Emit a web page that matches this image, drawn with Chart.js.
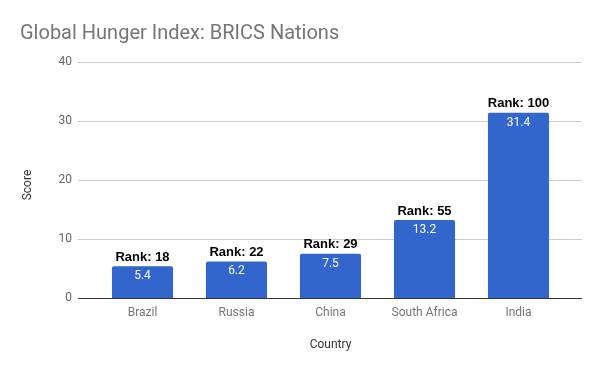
<!DOCTYPE html>
<html>
<head>
<meta charset="utf-8">
<script src="https://cdn.jsdelivr.net/npm/chart.js@4"></script>
<style>
  html,body{margin:0;padding:0;background:#fff;}
  #wrap{width:600px;height:371px;position:relative;}
</style>
</head>
<body>
<div id="wrap"><canvas id="c" width="600" height="371"></canvas></div>
<script>
const chartTitle = "Global Hunger Index: BRICS Nations";
const xAxisTitle = "Country";
const yAxisTitle = "Score";
const countries = ["Brazil", "Russia", "China", "South Africa", "India"];
const scores = [5.4, 6.2, 7.5, 13.2, 31.4];
const ranks = [18, 22, 29, 55, 100];
const yTicks = [0, 10, 20, 30, 40];

const extrasPlugin = {
  id: 'extras',
  beforeDatasetsDraw(chart) {
    const ctx = chart.ctx, y = chart.scales.y, a = chart.chartArea;
    ctx.save();
    ctx.strokeStyle = '#cccccc';
    ctx.lineWidth = 1;
    yTicks.forEach(v => {
      if (v === 0) return;
      const py = Math.round(y.getPixelForValue(v)) + 0.5;
      ctx.beginPath();
      ctx.moveTo(a.left - 17.5, py);
      ctx.lineTo(a.right + 16.5, py);
      ctx.stroke();
    });
    ctx.restore();
  },
  afterDatasetsDraw(chart) {
    const ctx = chart.ctx, y = chart.scales.y, a = chart.chartArea;
    ctx.save();
    const py0 = Math.round(y.getPixelForValue(0)) + 0.5;
    ctx.strokeStyle = '#333333';
    ctx.lineWidth = 1;
    ctx.beginPath();
    ctx.moveTo(a.left - 17.5, py0);
    ctx.lineTo(a.right + 16.5, py0);
    ctx.stroke();
    const meta = chart.getDatasetMeta(0);
    meta.data.forEach((bar, i) => {
      ctx.textAlign = 'center';
      ctx.textBaseline = 'middle';
      ctx.fillStyle = '#ffffff';
      ctx.font = '12px Roboto';
      ctx.fillText(String(scores[i]), bar.x, bar.y + 10);
      ctx.fillStyle = '#000000';
      ctx.font = 'bold 13px "Liberation Sans", Arial';
      ctx.textBaseline = 'alphabetic';
      ctx.fillText('Rank: ' + ranks[i], bar.x, bar.y - 5.5);
    });
    ctx.textBaseline = 'alphabetic';
    ctx.textAlign = 'left';
    ctx.fillStyle = '#757575';
    ctx.font = '20px Roboto';
    ctx.fillText(chartTitle, 20, 39);
    ctx.textAlign = 'center';
    ctx.textBaseline = 'middle';
    ctx.fillStyle = '#333333';
    ctx.font = '12px Roboto';
    ctx.fillText(xAxisTitle, (a.left + a.right) / 2, 344.5);
    ctx.translate(28, 185);
    ctx.rotate(-Math.PI / 2);
    ctx.fillText(yAxisTitle, 0, 0);
    ctx.restore();
  }
};

new Chart(document.getElementById('c'), {
  type: 'bar',
  data: {
    labels: countries,
    datasets: [{
      data: scores,
      backgroundColor: '#3366cc',
      borderRadius: 2,
      borderSkipped: 'bottom',
      barPercentage: 0.65,
      categoryPercentage: 1.0
    }]
  },
  options: {
    responsive: false,
    animation: false,
    devicePixelRatio: 1,
    layout: { padding: { left: 0, right: 34.5, top: 62, bottom: 23 } },
    plugins: { legend: { display: false }, tooltip: { enabled: false }, title: { display: false } },
    scales: {
      x: {
        grid: { display: false, drawTicks: false },
        border: { display: false },
        ticks: { color: '#757575', font: { family: 'Roboto', size: 12 }, padding: 8, maxRotation: 0 },
        afterFit(s) { s.height = 50; }
      },
      y: {
        min: 0, max: 40,
        grid: { display: false, drawTicks: false },
        border: { display: false },
        ticks: { stepSize: 10, color: '#666666', font: { family: 'Roboto', size: 12 }, padding: 23.5 },
        afterFit(s) { s.width = 95.5; }
      }
    }
  },
  plugins: [extrasPlugin]
});
</script>
</body>
</html>
